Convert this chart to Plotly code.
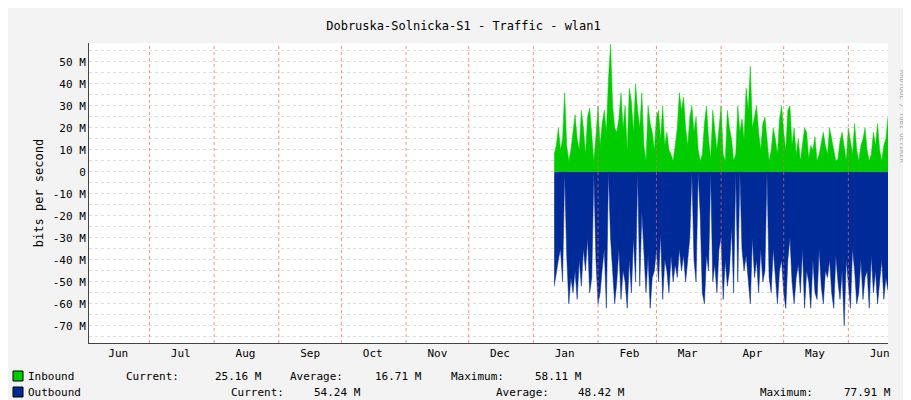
import plotly.graph_objects as go
import pandas as pd

start_date = "2014-01-11"
inbound = [8, 12, 20, 10, 15, 36, 12, 5, 10, 18, 26,
           15, 10, 28, 20, 8, 25, 29, 15, 5, 16,
           30, 12, 22, 28, 18, 42, 58, 30, 20, 18,
           24, 36, 20, 30, 10, 38, 32, 18, 40, 28,
           20, 36, 12, 5, 30, 22, 18, 10, 25, 28,
           15, 30, 12, 18, 10, 8, 5, 12, 20, 36,
           28, 34, 20, 12, 25, 30, 18, 25, 10, 5,
           8, 22, 30, 15, 6, 28, 18, 10, 20, 30,
           8, 5, 28, 20, 15, 5, 8, 30, 18, 24,
           15, 38, 28, 48, 20, 26, 30, 18, 10, 22,
           25, 15, 5, 10, 20, 15, 8, 24, 30, 18,
           10, 28, 30, 12, 20, 8, 15, 5, 12, 20,
           18, 6, 12, 10, 16, 5, 8, 14, 18, 12,
           8, 20, 15, 10, 5, 6, 14, 18, 12, 5,
           20, 14, 8, 22, 10, 5, 12, 15, 20, 10,
           5, 8, 18, 12, 22, 10, 5, 12, 15, 25]
outbound = [-52, -45, -40, -35, -50, 0, -38, -60, -48, -55, -45,
            -58, -40, -52, -35, -45, -30, -55, -48, 0, -40,
            -60, -55, -44, -35, -62, 0, -30, -48, -60, -50,
            -35, -58, -45, -50, -62, -40, -55, -30, -50, 0,
            -52, -18, -40, -55, -38, -62, -48, -45, -35, -50,
            -28, -58, -40, -45, -55, -38, -50, -42, -48, -35,
            -45, -38, -50, -40, -30, 0, -40, -50, 0, -20,
            -55, -60, -38, -45, 0, -50, -42, -55, -35, -30,
            -58, -40, -52, -45, -25, -55, 0, -50, 0, -35,
            -45, -38, -50, -60, -30, -48, -40, -55, -35, -50,
            -45, 0, -48, -55, -35, -50, -60, -45, -40, -55,
            -62, -40, -30, -50, -60, -48, -42, -55, -35, -62,
            -45, -50, -62, -40, -55, -58, -35, -52, -60, -45,
            -48, -40, -55, -62, -38, -50, -58, -45, -70, -40,
            -50, -62, -35, -45, -60, -55, -40, -58, -48, -45,
            -62, -38, -55, -45, -60, -50, -40, -58, -48, -54]
month_starts = ["2013-07-01", "2013-08-01", "2013-09-01", "2013-10-01", "2013-11-01",
                "2013-12-01", "2014-01-01", "2014-02-01", "2014-03-01", "2014-04-01",
                "2014-05-01", "2014-06-01"]
month_label_dates = ["2013-06-16", "2013-07-16", "2013-08-16", "2013-09-16", "2013-10-16",
                     "2013-11-16", "2013-12-16", "2014-01-16", "2014-02-16", "2014-03-16",
                     "2014-04-16", "2014-05-16", "2014-06-16"]
month_labels = ["Jun", "Jul", "Aug", "Sep", "Oct", "Nov", "Dec", "Jan", "Feb", "Mar", "Apr", "May", "Jun"]
y_ticks = [50, 40, 30, 20, 10, 0, -10, -20, -30, -40, -50, -60, -70]
y_labels = [("0" if v == 0 else f"{v} M") for v in y_ticks]

dates = pd.date_range(start_date, periods=len(inbound), freq="D")
mono = "DejaVu Sans Mono"

fig = go.Figure()
fig.add_trace(go.Scatter(x=dates, y=inbound, fill="tozeroy", mode="lines",
                         line=dict(width=0.5, color="#00cc00"), fillcolor="#00cc00"))
fig.add_trace(go.Scatter(x=dates, y=outbound, fill="tozeroy", mode="lines",
                         line=dict(width=0.5, color="#002a97"), fillcolor="#002a97"))

for m in month_starts:
    fig.add_shape(type="line", xref="x", yref="paper", x0=m, x1=m, y0=0, y1=1,
                  line=dict(color="rgba(255,90,90,0.7)", width=1, dash="dot"), layer="above")

fig.update_layout(
    width=911, height=400, showlegend=False,
    margin=dict(l=81, r=31, t=35, b=65, autoexpand=False),
    paper_bgcolor="#f3f3f3", plot_bgcolor="white",
    font=dict(family=mono, size=11, color="black"),
    title=dict(text="Dobruska-Solnicka-S1 - Traffic - wlan1", x=0.5, xanchor="center",
               y=0.965, font=dict(family=mono, size=12), automargin=False),
    xaxis=dict(type="date", range=["2013-06-02", "2014-06-20"], tickvals=month_label_dates,
               ticktext=month_labels, showgrid=False, zeroline=False, showline=True,
               linecolor="#444", ticks="", tickfont=dict(family=mono, size=11), automargin=False),
    yaxis=dict(range=[-77.8, 58.6], tickvals=y_ticks, ticktext=y_labels,
               showgrid=True, gridcolor="#dddddd", griddash="dot", zeroline=False,
               showline=True, linecolor="#444", ticks="", tickfont=dict(family=mono, size=11),
               minor=dict(tick0=0, dtick=5, showgrid=True, gridcolor="#dddddd", griddash="dot"),
               automargin=False,
               title=dict(text="bits per second", font=dict(family=mono, size=12), standoff=6)),
)

def px(x): return (x - 81) / 799
def py(y): return (400 - 65 - y) / 300

fig.add_shape(type="rect", xref="paper", yref="paper", x0=px(5), x1=px(15), y0=py(373), y1=py(363),
              fillcolor="#00cc00", line=dict(color="black", width=1))
fig.add_shape(type="rect", xref="paper", yref="paper", x0=px(5), x1=px(15), y0=py(389), y1=py(379),
              fillcolor="#002a97", line=dict(color="black", width=1))
rows = [
    (18, 368, "Inbound"), (116, 368, "Current:"), (205, 368, "25.16 M"), (280, 368, "Average:"),
    (365, 368, "16.71 M"), (441, 368, "Maximum:"), (525, 368, "58.11 M"),
    (18, 384, "Outbound"), (221, 384, "Current:"), (304, 384, "54.24 M"), (486, 384, "Average:"),
    (568, 384, "48.42 M"), (750, 384, "Maximum:"), (834, 384, "77.91 M"),
]
for x, y, t in rows:
    fig.add_annotation(xref="paper", yref="paper", x=px(x), y=py(y), text=t, showarrow=False,
                       xanchor="left", yanchor="middle", font=dict(family=mono, size=11))
fig.add_annotation(xref="paper", yref="paper", x=px(900), y=py(60), text="RRDTOOL / TOBI OETIKER",
                   showarrow=False, textangle=90, font=dict(family=mono, size=7, color="#aaaaaa"))

fig.write_html("out.html")
